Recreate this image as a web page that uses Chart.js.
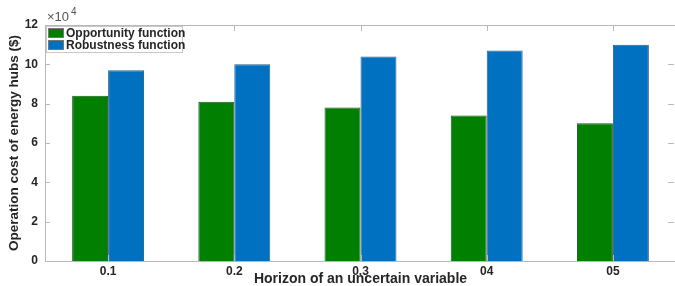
<!DOCTYPE html>
<html>
<head>
<meta charset="utf-8">
<script src="https://cdn.jsdelivr.net/npm/chart.js@4/dist/chart.umd.min.js"></script>
<style>
  html, body { margin: 0; padding: 0; background: #fff; overflow: hidden; }
  #wrap { position: absolute; left: 0; top: 0; width: 690px; height: 286px; }
</style>
</head>
<body>
<div id="wrap"><canvas id="chart" width="690" height="286"></canvas></div>
<script>
// values (in $)
const horizons = ["0.1", "0.2", "0.3", "04", "05"];
const opportunity = [84000, 81000, 78000, 74000, 70000];
const robustness = [97000, 100000, 104000, 107000, 110000];
const yTicks = [0, 2, 4, 6, 8, 10, 12];

const FONT = "'Liberation Sans', Arial, sans-serif";
const TEXT = "#262626";
const AXIS = "#b8b8b8";

// MATLAB style box: inside tick marks, top/right edge, exponent and legend
const matlabBox = {
    id: "matlabBox",
    afterDraw(chart) {
        const ctx = chart.ctx;
        const { left, right, top, bottom } = chart.chartArea;
        const x = chart.scales.x;
        const y = chart.scales.y;

        ctx.save();
        ctx.strokeStyle = AXIS;
        ctx.lineWidth = 1;
        ctx.beginPath();
        ctx.moveTo(left, top + 0.5);
        ctx.lineTo(right, top + 0.5);
        yTicks.forEach(t => {
            const py = Math.round(y.getPixelForValue(t * 1e4)) + 0.5;
            ctx.moveTo(left, py);
            ctx.lineTo(left + 5, py);
            ctx.moveTo(right - 2, py);
            ctx.lineTo(right - 8, py);
        });
        horizons.forEach((h, i) => {
            const px = Math.round(x.getPixelForValue(i)) + 0.5;
            ctx.moveTo(px, bottom);
            ctx.lineTo(px, bottom - 6);
            ctx.moveTo(px, top);
            ctx.lineTo(px, top + 6);
        });
        ctx.stroke();

        // exponent label
        ctx.fillStyle = "#555";
        ctx.textBaseline = "alphabetic";
        ctx.font = "13px " + FONT;
        ctx.fillText("\u00d710", left + 2, top - 4);
        ctx.font = "10px " + FONT;
        ctx.fillText("4", left + 26, top - 10);

        // legend
        const lx = left + 1, ly = top + 1, lw = 136, lh = 26;
        ctx.fillStyle = "#fff";
        ctx.fillRect(lx, ly, lw, lh);
        ctx.strokeStyle = "#c8c8c8";
        ctx.strokeRect(lx + 0.5, ly + 0.5, lw, lh);
        chart.data.datasets.forEach((ds, i) => {
            const ry = ly + 2 + i * 12;
            ctx.fillStyle = ds.backgroundColor;
            ctx.fillRect(lx + 2, ry, 16, 10);
            ctx.strokeStyle = "#777";
            ctx.strokeRect(lx + 2.5, ry + 0.5, 15, 9);
            ctx.fillStyle = TEXT;
            ctx.font = "bold 12px " + FONT;
            ctx.textBaseline = "middle";
            ctx.fillText(ds.label, lx + 20, ry + 6);
        });
        ctx.restore();
    }
};

new Chart(document.getElementById("chart"), {
    type: "bar",
    data: {
        labels: horizons,
        datasets: [
            {
                label: "Opportunity function",
                data: opportunity,
                backgroundColor: "#007f00",
                borderColor: "#1f5a1f",
                borderWidth: 1
            },
            {
                label: "Robustness function",
                data: robustness,
                backgroundColor: "#0070c0",
                borderColor: "#2a5f8a",
                borderWidth: 1
            }
        ]
    },
    options: {
        responsive: false,
        animation: false,
        layout: { padding: { top: 25, right: 14, left: 0, bottom: 0 } },
        plugins: {
            legend: { display: false },
            tooltip: { enabled: false }
        },
        datasets: {
            bar: { categoryPercentage: 0.57, barPercentage: 1.0 }
        },
        scales: {
            x: {
                grid: { display: false, drawTicks: false },
                border: { display: true, color: AXIS },
                ticks: {
                    color: TEXT,
                    font: { family: FONT, size: 12, weight: "bold" },
                    padding: 3,
                    maxRotation: 0
                },
                title: {
                    display: true,
                    text: "Horizon of an uncertain variable",
                    color: TEXT,
                    font: { family: FONT, size: 14, weight: "bold", lineHeight: 1 },
                    padding: 0
                },
                afterFit(scale) { scale.height = 25; }
            },
            y: {
                min: 0,
                max: 120000,
                grid: { display: false, drawTicks: false },
                border: { display: true, color: AXIS },
                afterBuildTicks(scale) {
                    scale.ticks = yTicks.map(v => ({ value: v * 1e4 }));
                },
                ticks: {
                    color: TEXT,
                    font: { family: FONT, size: 12, weight: "bold" },
                    padding: 7,
                    callback: v => v / 1e4
                },
                title: {
                    display: true,
                    text: "Operation cost of energy hubs ($)",
                    color: TEXT,
                    font: { family: FONT, size: 13.5, weight: "bold", lineHeight: 1 },
                    padding: 8
                },
                afterFit(scale) { scale.width = 45; }
            }
        }
    },
    plugins: [matlabBox]
});
</script>
</body>
</html>
